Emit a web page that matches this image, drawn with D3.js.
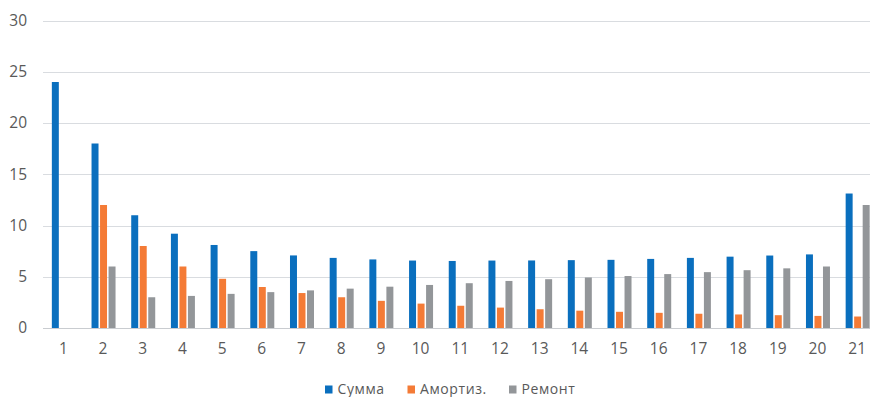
<!DOCTYPE html>
<html>
<head>
<meta charset="utf-8">
<script src="https://cdn.jsdelivr.net/npm/d3@7"></script>
<style>
  html, body { margin: 0; padding: 0; background: #ffffff; }
  svg { display: block; }
  text { font-family: "Open Sans", "Noto Sans", sans-serif; fill: #595959; }
</style>
</head>
<body>
<svg id="chart" width="870" height="397"></svg>
<script>
// Categories (years of service) and the three series
const categories = ["1","2","3","4","5","6","7","8","9","10","11","12","13","14","15","16","17","18","19","20","21"];
const summa      = [24, 18, 11, 9.2, 8.1, 7.5, 7.08, 6.84, 6.69, 6.58, 6.54, 6.58, 6.59, 6.62, 6.65, 6.74, 6.84, 6.96, 7.07, 7.18, 13.12];
const amortiz    = [0, 12, 8, 6, 4.8, 4, 3.41, 3, 2.65, 2.38, 2.17, 1.99, 1.83, 1.69, 1.58, 1.48, 1.39, 1.32, 1.25, 1.18, 1.12];
const remont     = [0, 6, 3, 3.13, 3.33, 3.5, 3.67, 3.84, 4.03, 4.2, 4.37, 4.59, 4.76, 4.93, 5.07, 5.26, 5.45, 5.64, 5.82, 6.0, 12.0];
const seriesNames  = ["Сумма", "Амортиз.", "Ремонт"];
const seriesColors = ["#0a6fbe", "#f47b36", "#939699"];
const yTicks = [0, 5, 10, 15, 20, 25, 30];

const seriesValues = [summa, amortiz, remont];
const rows = categories.map((c, i) => ({
  cat: c,
  vals: seriesNames.map((s, j) => ({ key: s, value: seriesValues[j][i], color: seriesColors[j] }))
}));

const svg = d3.select("#chart");
const plot = { left: 44, right: 877.5, top: 20.5, bottom: 328 };

const x = d3.scaleBand().domain(categories).range([plot.left, plot.right]).padding(0);
const groupWidth = 24;
const xs = d3.scaleBand().domain(seriesNames).range([0, groupWidth]).paddingInner(0.18);
const y = d3.scaleLinear().domain([0, 30]).range([plot.bottom, plot.top]);

// Horizontal gridlines
svg.append("g")
  .selectAll("line")
  .data(yTicks)
  .join("line")
  .attr("x1", plot.left - 1)
  .attr("x2", plot.right)
  .attr("y1", d => Math.round(y(d)) + 0.5)
  .attr("y2", d => Math.round(y(d)) + 0.5)
  .attr("stroke", d => d === 0 ? "#c9ccd0" : "#d9dce0")
  .attr("stroke-width", 1.2);

// Y axis labels
const yAxis = d3.axisLeft(y).tickValues(yTicks).tickSize(0).tickPadding(0);
svg.append("g")
  .attr("transform", `translate(27,0)`)
  .call(yAxis)
  .call(g => g.select(".domain").remove())
  .call(g => g.selectAll("text")
    .attr("fill", "#595959")
    .style("font-size", "15.5px")
    .attr("font-family", "'Open Sans', sans-serif"));

// Bars
const groups = svg.append("g")
  .selectAll("g")
  .data(rows)
  .join("g")
  .attr("transform", d => `translate(${x(d.cat) + (x.bandwidth() - groupWidth) / 2},0)`);

groups.selectAll("rect")
  .data(d => d.vals.filter(v => v.value > 0))
  .join("rect")
  .attr("x", d => xs(d.key))
  .attr("width", xs.bandwidth())
  .attr("y", d => y(d.value))
  .attr("height", d => y(0) - y(d.value))
  .attr("fill", d => d.color);

// X axis labels
const xAxis = d3.axisBottom(x).tickSize(0).tickPadding(0);
svg.append("g")
  .attr("transform", `translate(-0.5,${plot.bottom + 15})`)
  .call(xAxis)
  .call(g => g.select(".domain").remove())
  .call(g => g.selectAll("text")
    .attr("fill", "#595959")
    .style("font-size", "15.5px")
    .attr("font-family", "'Open Sans', sans-serif"));

// Legend
const legendX = [325, 407.5, 509];
const legend = svg.append("g")
  .selectAll("g")
  .data(seriesNames)
  .join("g")
  .attr("transform", (d, i) => `translate(${legendX[i]},385.5)`);
legend.append("rect")
  .attr("width", 7.5).attr("height", 8)
  .attr("fill", (d, i) => seriesColors[i]);
legend.append("text")
  .attr("x", 12.5)
  .attr("y", 8)
  .style("font-size", "14px")
  .style("letter-spacing", "0.6px")
  .text(d => d);
</script>
</body>
</html>
